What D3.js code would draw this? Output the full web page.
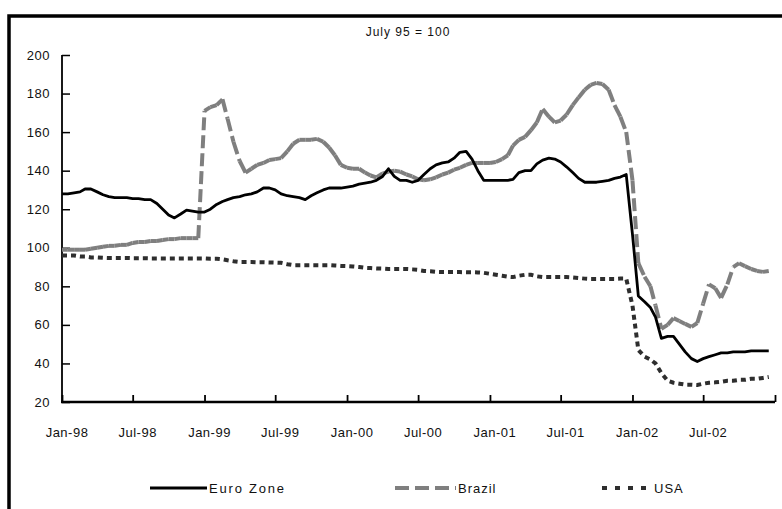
<!DOCTYPE html>
<html>
<head>
<meta charset="utf-8">
<script src="https://cdn.jsdelivr.net/npm/d3@7"></script>
<style>
    body { margin: 0; background: #fff; }
    text { font-family: "Liberation Sans", Arial, sans-serif; fill: #111; }
</style>
</head>
<body>
<svg id="chart" width="782" height="509"></svg>
<script>

/*    ========    DATA    =========    */

// half-monthly observations, Jan-98 .. Dec-02 (1st and 16th of each month)
var dates = d3.range(120).map(function(i) {
    return new Date(1998, Math.floor(i / 2), i % 2 ? 16 : 1);
});

var euroZone = [
    128, 128, 128.5, 129, 130.5, 130.5, 129, 127.5, 126.5, 126,
    126, 126, 125.5, 125.5, 125, 125, 123, 120, 117, 115.5,
    117.5, 119.5, 119, 118.5, 118.5, 120, 122.5, 124, 125, 126,
    126.5, 127.5, 128, 129, 131, 131, 130, 128, 127, 126.5,
    126, 125, 127, 128.5, 130, 131, 131, 131, 131.5, 132,
    133, 133.5, 134, 135, 137, 141, 137, 135, 135, 134,
    135, 138, 141, 143, 144, 144.5, 146.5, 149.5, 150, 146,
    140, 135, 135, 135, 135, 135, 135.5, 139, 140, 140,
    143.5, 145.5, 146.5, 146, 144.5, 142, 139, 136, 134, 134,
    134, 134.5, 135, 136, 136.7, 138, 107, 75, 72, 69,
    64, 53, 54, 54, 50, 46, 42.5, 41, 42.5, 43.5,
    44.5, 45.5, 45.5, 46, 46, 46, 46.5, 46.5, 46.5, 46.5
];

var brazil = [
    99, 99, 99, 99, 99, 99.5, 100, 100.5, 101, 101,
    101.5, 101.5, 102.5, 103, 103, 103.5, 103.5, 104, 104.5, 104.5,
    105, 105, 105, 105, 171, 173, 174, 177, 167, 155,
    145, 139, 141, 143, 144, 145.5, 146, 146.5, 150, 154,
    156, 156, 156, 156.5, 155, 152, 148, 143, 141.5, 141,
    141, 139, 137.5, 136.5, 138.5, 139.5, 140, 139.5, 138, 137,
    135.5, 135, 135.5, 136.5, 138, 139, 140.5, 141.5, 143, 144,
    144, 144, 144, 144.5, 146, 148, 153, 156, 157.5, 161,
    165, 172, 168, 165, 166, 169, 174, 178, 182, 184.5,
    185.5, 185, 182, 174, 168, 160, 135, 92, 85, 80,
    70, 58, 60, 63.5, 62, 60.5, 59, 61, 71, 81,
    79, 74, 81, 90, 92, 90.5, 89, 88, 87.5, 88
];

var usa = [
    96, 96, 96, 95.5, 95.5, 95, 95, 94.8, 94.7, 94.7,
    94.7, 94.7, 94.6, 94.6, 94.6, 94.5, 94.5, 94.5, 94.5, 94.5,
    94.5, 94.5, 94.5, 94.5, 94.5, 94.3, 94.3, 94, 93.5, 93,
    92.6, 92.6, 92.6, 92.5, 92.5, 92.4, 92.3, 92.2, 91.5, 91,
    91, 91, 91, 91, 91, 91, 90.8, 90.6, 90.5, 90.3,
    90, 89.6, 89.5, 89.3, 89.2, 89, 89, 89, 89, 88.8,
    88.5, 88, 87.8, 87.5, 87.4, 87.4, 87.4, 87.4, 87.3, 87.3,
    87.2, 87, 86.5, 86, 85.5, 85, 84.8, 85.5, 86, 86,
    85.2, 84.8, 84.8, 84.8, 84.8, 84.8, 84.6, 84.3, 84, 83.8,
    83.8, 83.8, 83.8, 83.8, 84, 84, 70, 47, 43.5, 42,
    40, 35, 31, 30, 29.5, 29, 29, 28.8, 29.5, 30,
    30.2, 30.5, 31, 31, 31.5, 31.5, 32, 32, 32.5, 33
];

var yTicks = [20, 40, 60, 80, 100, 120, 140, 160, 180, 200];
var titleText = "July 95 = 100";
var legendNames = ["Euro Zone", "Brazil", "USA"];

/*    ========    SETTINGS    =========    */

var svg = d3.select("#chart");

var plotLeft = 62, plotRight = 775, plotTop = 55, plotBottom = 402;

var xscale = d3.scaleTime()
    .domain([new Date(1998, 0, 1), new Date(2003, 0, 1)])
    .range([plotLeft, plotRight]);

var yscale = d3.scaleLinear()
    .domain([20, 200])
    .range([plotBottom, plotTop]);

function pts(values) {
    return values.map(function(v, i) { return {date: dates[i], value: v}; });
}

var lineGen = d3.line()
    .x(function(d) { return xscale(d.date); })
    .y(function(d) { return yscale(d.value); });

/*    ========    FRAME & TITLE    =========    */

svg.append("rect")
    .attr("x", 9).attr("y", 16)
    .attr("width", 800).attr("height", 520)
    .attr("fill", "none")
    .attr("stroke", "#000")
    .attr("stroke-width", 3.5);

svg.append("text")
    .attr("x", 408).attr("y", 36)
    .attr("text-anchor", "middle")
    .style("font-size", "12px")
    .style("letter-spacing", "1px")
    .text(titleText);

/*    ========    AXES    =========    */

var yAxis = d3.axisRight(yscale)
    .tickValues(yTicks)
    .tickSize(8)
    .tickFormat("");

var gy = svg.append("g")
    .attr("transform", "translate(" + plotLeft + ",0)")
    .call(yAxis);
gy.select(".domain").attr("stroke-width", 1.8).attr("d", "M0," + plotTop + "V" + plotBottom);
gy.selectAll(".tick line").attr("stroke-width", 1.5);

// y labels, right aligned left of the axis
svg.selectAll("text.ylab")
    .data(yTicks).enter()
    .append("text")
    .attr("class", "ylab")
    .attr("x", plotLeft - 12)
    .attr("y", function(d) { return yscale(d); })
    .attr("dy", "0.35em")
    .attr("text-anchor", "end")
    .style("font-size", "13px")
    .style("letter-spacing", "0.5px")
    .text(function(d) { return d; });

var xTickDates = d3.timeMonth.every(6).range(new Date(1998, 0, 1), new Date(2003, 0, 2));

var xAxis = d3.axisTop(xscale)
    .tickValues(xTickDates)
    .tickSize(7)
    .tickFormat("");

var gx = svg.append("g")
    .attr("transform", "translate(0," + plotBottom + ")")
    .call(xAxis);
gx.select(".domain").attr("stroke-width", 2.5).attr("d", "M" + (plotLeft - 1) + ",0H" + plotRight);
gx.selectAll(".tick line").attr("stroke-width", 1.8);

var fmt = d3.timeFormat("%b-%y");
svg.selectAll("text.xlab")
    .data(xTickDates.slice(0, -1)).enter()
    .append("text")
    .attr("class", "xlab")
    .attr("x", function(d) { return xscale(d) + 5; })
    .attr("y", 437)
    .attr("text-anchor", "middle")
    .style("font-size", "13px")
    .style("letter-spacing", "0.5px")
    .text(function(d) { return fmt(d); });

/*    ========    LINES    =========    */

// USA - dark dotted
svg.append("path")
    .datum(pts(usa))
    .attr("d", lineGen)
    .attr("fill", "none")
    .attr("stroke", "#2e2e2e")
    .attr("stroke-width", 4)
    .attr("stroke-dasharray", "5,4");

// Brazil - grey dashes restart on every segment (only long jumps show gaps)
svg.selectAll("path.brazil")
    .data(d3.pairs(pts(brazil))).enter()
    .append("path")
    .attr("class", "brazil")
    .attr("d", lineGen)
    .attr("fill", "none")
    .attr("stroke", "#7f7f7f")
    .attr("stroke-width", 4)
    .attr("stroke-dasharray", "13,5");

// Euro Zone - black solid
svg.append("path")
    .datum(pts(euroZone))
    .attr("d", lineGen)
    .attr("fill", "none")
    .attr("stroke", "#000")
    .attr("stroke-width", 2.8)
    .attr("stroke-linejoin", "round");

/*    ========    LEGEND    =========    */

var legendY = 488;
var legend = [
    {x1: 150, x2: 207, stroke: "#000", width: 2.8, dash: null},
    {x1: 395, x2: 456, stroke: "#7f7f7f", width: 4, dash: "14,6"},
    {x1: 602, x2: 652, stroke: "#2e2e2e", width: 4, dash: "5,8"}
];

legend.forEach(function(d, i) {
    svg.append("line")
        .attr("x1", d.x1).attr("x2", d.x2)
        .attr("y1", legendY).attr("y2", legendY)
        .attr("stroke", d.stroke)
        .attr("stroke-width", d.width)
        .attr("stroke-dasharray", d.dash);

    svg.append("text")
        .attr("x", d.x2 + 2)
        .attr("y", legendY + 5)
        .style("font-size", "13px")
        .style("letter-spacing", i === 0 ? "1.8px" : "1px")
        .text(legendNames[i]);
});

</script>
</body>
</html>
